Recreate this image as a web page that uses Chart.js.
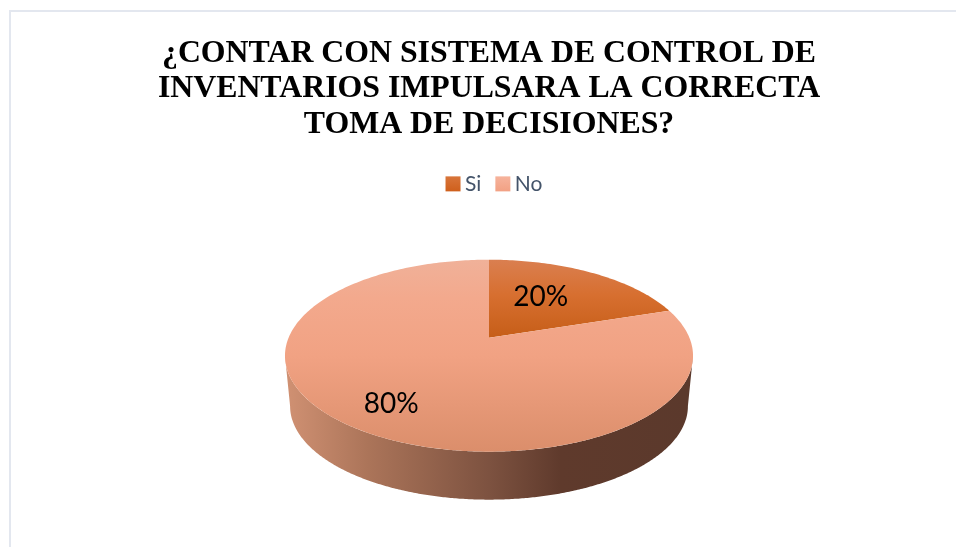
<!DOCTYPE html>
<html lang="es">
<head>
<meta charset="utf-8">
<title>¿Contar con sistema de control de inventarios?</title>
<style>
html,body{margin:0;padding:0;background:#fff;overflow:hidden}
#wrap{width:956px;height:547px}
canvas{display:block}
</style>
<script src="https://cdn.jsdelivr.net/npm/chart.js@4/dist/chart.umd.min.js"></script>
</head>
<body>
<div id="wrap"><canvas id="c" width="956" height="547"></canvas></div>
<script>
const categories = ['Si', 'No'];
const values = [20, 80];
const titleLines = ['¿CONTAR CON SISTEMA DE CONTROL DE', 'INVENTARIOS IMPULSARA LA CORRECTA', 'TOMA DE DECISIONES?'];
const sliceColors = ['#d5692a', '#f3a586'];
const labelRadius = [0.54, 0.75];
const labelNudge = [[-7, -3.5], [2, 2.5]];

// 3D look of the pie
const VIEW = {rx: 200.4, ry: 92.6, tilt: 0.1875, depth: 48, bottomScale: 0.975};
const LEGEND_SHIFT = 2, SWATCH = 15, SWATCH_GAP = 6;

function project(el, u, v, bottom) {
  const w = 1 + VIEW.tilt * v;
  const s = bottom ? VIEW.bottomScale : 1;
  const base = bottom ? el.y + VIEW.depth + (1 - s) * VIEW.ry / (1 - VIEW.tilt) : el.y;
  return {x: el.x + s * VIEW.rx * u / w, y: base - s * VIEW.ry * v / w};
}
const pt = (el, a, bottom, f = 1) => {
  const t = a + Math.PI / 2;
  return project(el, f * Math.sin(t), f * Math.cos(t), bottom);
};
function stops(g, list) { list.forEach(([o, c]) => g.addColorStop(o, c)); return g; }

const pie3d = {
  id: 'pie3d',
  afterLayout(chart) {
    chart.legend.left += LEGEND_SHIFT;
    chart.legend.right += LEGEND_SHIFT;
    chart.legend.legendHitBoxes.forEach(b => { b.left += LEGEND_SHIFT; });
  },
  beforeDraw(chart) {
    const {ctx} = chart;
    ctx.save();
    ctx.fillStyle = '#e3e7ef';
    ctx.fillRect(9, 10, 947, 2);
    ctx.fillRect(9, 10, 2, 537);
    ctx.restore();
  },
  afterDraw(chart) {
    const {ctx} = chart;
    const grads = [[[0, '#d8753a'], [1, '#cf5f1c']], [[0, '#f6b39c'], [1, '#f2a184']]];
    ctx.save();
    chart.legend.legendHitBoxes.forEach((b, i) => {
      const x = b.left + SWATCH_GAP, y = b.top + (b.height - SWATCH) / 2;
      ctx.fillStyle = stops(ctx.createLinearGradient(0, y, 0, y + SWATCH), grads[i]);
      ctx.fillRect(x, y, SWATCH, SWATCH);
    });
    ctx.restore();
  },
  beforeDatasetDraw(chart, args) {
    const {ctx} = chart;
    const arcs = args.meta.data;
    const el = arcs[0];
    const n = 360;
    ctx.save();

    // side wall, seen from the widest point of the top face round the near edge
    const a0 = Math.asin(VIEW.tilt);
    const a1 = Math.PI - Math.asin(VIEW.tilt);
    const wall = ctx.createLinearGradient(el.x - VIEW.rx, 0, el.x + VIEW.rx, 0);
    stops(wall, [[0, '#cf9072'], [0.2, '#ab7459'], [0.5, '#7d5240'], [0.68, '#5f3a2c'], [1, '#5b392c']]);
    ctx.beginPath();
    for (let i = 0; i <= n; i++) {
      const p = pt(el, a0 + (a1 - a0) * i / n, false);
      i ? ctx.lineTo(p.x, p.y) : ctx.moveTo(p.x, p.y);
    }
    for (let i = n; i >= 0; i--) {
      const p = pt(el, a0 + (a1 - a0) * i / n, true);
      ctx.lineTo(p.x, p.y);
    }
    ctx.closePath();
    ctx.fillStyle = wall;
    ctx.fill();

    // top face, one slice per library arc element
    const top = el.y - 78, bottom = el.y + 114;
    const fills = [
      stops(ctx.createLinearGradient(0, top, 0, el.y), [[0, '#da7f50'], [0.45, '#d76f30'], [1, '#c65e18']]),
      stops(ctx.createLinearGradient(0, top, 0, bottom), [[0, '#f0b199'], [0.2, '#f3a98d'], [0.5, '#f1a283'], [1, '#db8e6b']])
    ];
    arcs.forEach((arc, i) => {
      const p = arc.getProps(['startAngle', 'endAngle']);
      ctx.beginPath();
      const c = project(el, 0, 0, false);
      ctx.moveTo(c.x, c.y);
      const steps = Math.ceil((p.endAngle - p.startAngle) / (2 * Math.PI) * n);
      for (let k = 0; k <= steps; k++) {
        const q = pt(el, p.startAngle + (p.endAngle - p.startAngle) * k / steps, false);
        ctx.lineTo(q.x, q.y);
      }
      ctx.closePath();
      ctx.fillStyle = fills[i];
      ctx.fill();
    });

    // percentage labels
    const sum = values.reduce((a, b) => a + b, 0);
    ctx.fillStyle = '#000';
    ctx.font = '28px Lato';
    ctx.textAlign = 'center';
    ctx.textBaseline = 'middle';
    arcs.forEach((arc, i) => {
      const mid = (arc.startAngle + arc.endAngle) / 2;
      const q = pt(el, mid, false, labelRadius[i]);
      ctx.fillText(Math.round(values[i] / sum * 100) + '%', q.x + labelNudge[i][0], q.y + labelNudge[i][1]);
    });
    ctx.restore();
    return false;
  }
};

new Chart(document.getElementById('c'), {
  type: 'pie',
  data: {labels: categories, datasets: [{data: values, backgroundColor: sliceColors, borderWidth: 0}]},
  plugins: [pie3d],
  options: {
    responsive: false,
    animation: false,
    layout: {padding: {left: 22, right: 0, top: 28, bottom: 76}},
    plugins: {
      tooltip: {enabled: false},
      title: {
        display: true,
        text: titleLines,
        color: '#000',
        font: {family: '"Liberation Serif"', size: 31.8, weight: 'bold', lineHeight: 1.115},
        padding: {top: 8, bottom: 23}
      },
      legend: {
        position: 'top',
        labels: {
          boxWidth: 15,
          boxHeight: 15,
          padding: 8,
          color: '#44546a',
          font: {family: 'Lato', size: 21},
          generateLabels(chart) {
            return categories.map((text, i) => ({
              text, index: i, fillStyle: 'rgba(0,0,0,0)', strokeStyle: 'rgba(0,0,0,0)',
              lineWidth: 0, fontColor: '#44546a', hidden: false
            }));
          }
        }
      }
    }
  }
});
</script>
</body>
</html>
